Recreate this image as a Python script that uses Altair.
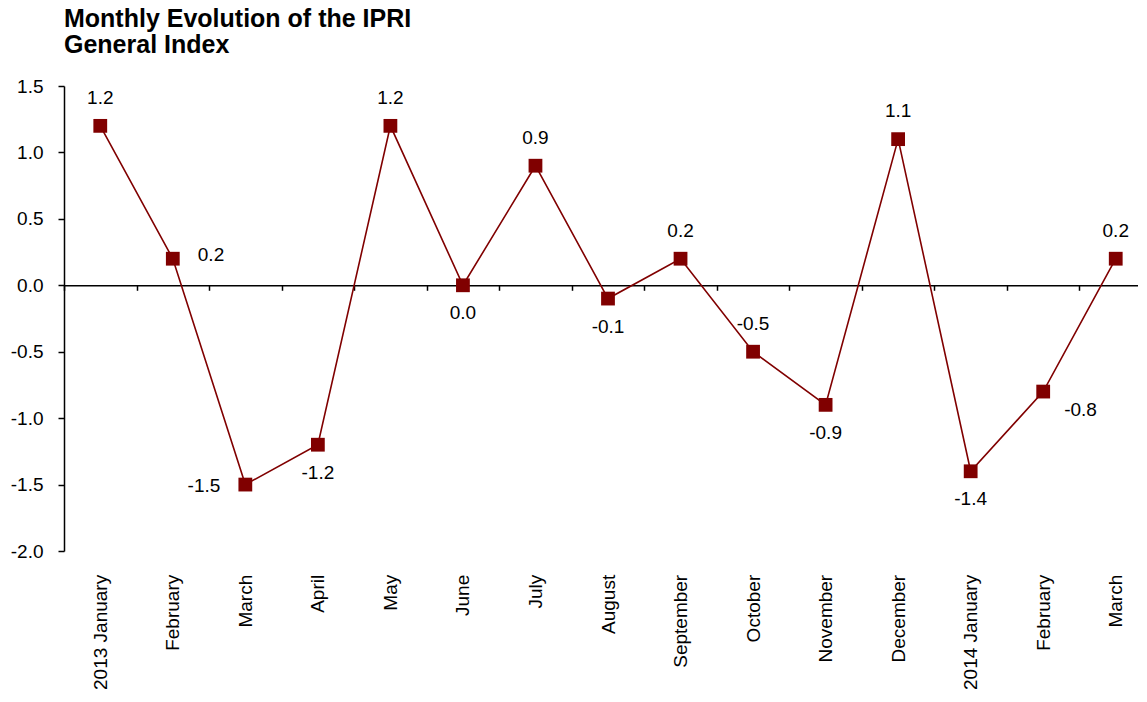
import altair as alt
import pandas as pd

months = ["2013 January", "February", "March", "April", "May", "June", "July",
          "August", "September", "October", "November", "December",
          "2014 January", "February ", "March "]
values = [1.2, 0.2, -1.5, -1.2, 1.2, 0.0, 0.9, -0.1, 0.2, -0.5, -0.9, 1.1, -1.4, -0.8, 0.2]
label_pos = ["above", "right", "left", "below", "above", "below", "above", "below",
             "above", "above", "below", "above", "below", "lowright", "above"]
y_ticks = [-2.0, -1.5, -1.0, -0.5, 0.0, 0.5, 1.0, 1.5]

df = pd.DataFrame({"month": months, "value": values, "pos": label_pos})

FONT = "Liberation Sans"
RED = "#800000"
H = 465
Y0_OFFSET = -H * (2.0 / 3.5)  # zero line distance above the plot bottom (negative offset)
HYPHEN = "replace(format(datum.value, '.1f'), '\u2212', '-')"

xscale = alt.Scale(domain=months, range=[0, 1088], paddingInner=0, paddingOuter=0)
yscale = alt.Scale(domain=[-2.0, 1.5], nice=False, zero=False)

x_axis = alt.Axis(title=None, offset=Y0_OFFSET, tickBand="extent", tickSize=5,
                  tickWidth=1.5, tickColor="black", domainColor="black", domainWidth=1.5,
                  labelAngle=-90, labelPadding=284, labelFontSize=19, labelFont=FONT,
                  labelColor="black", labelOverlap=False, labelBound=False, grid=False)
y_axis = alt.Axis(title=None, values=y_ticks, labelExpr=HYPHEN, tickSize=6, tickWidth=1.5,
                  tickColor="black", domainColor="black", domainWidth=1.5,
                  labelPadding=15, labelFontSize=19, labelFont=FONT, labelColor="black",
                  grid=False)

base = alt.Chart(df)

x_enc = alt.X("month:N", sort=months, scale=xscale, axis=x_axis)
x_plain = alt.X("month:N", sort=months, scale=xscale)
y_enc = alt.Y("value:Q", scale=yscale, axis=y_axis)
y_plain = alt.Y("value:Q", scale=yscale)

line = base.mark_line(color=RED, strokeWidth=1.6).encode(x=x_enc, y=y_enc)
pts = base.mark_square(size=190, color=RED, opacity=1).encode(x=x_plain, y=y_plain)

def labels(pos, **kw):
    return base.transform_filter(alt.datum.pos == pos).transform_calculate(
        lbl=HYPHEN
    ).mark_text(
        font=FONT, fontSize=19, color="black", baseline="middle", **kw
    ).encode(x=x_plain, y=y_plain, text="lbl:N")

t_above = labels("above", align="center", dy=-28)
t_below = labels("below", align="center", dy=28)
t_left = labels("left", align="right", dx=-25, dy=1)
t_right = labels("right", align="left", dx=25, dy=-4)
t_lowright = labels("lowright", align="left", dx=21, dy=18)

chart = alt.layer(line, pts, t_above, t_below, t_left, t_right, t_lowright).properties(
    width=1074, height=H,
    title=alt.TitleParams(text=["Monthly Evolution of the IPRI", "General Index"],
                          anchor="start", frame="group", font=FONT, fontSize=25,
                          fontWeight="bold", color="black", lineHeight=26,
                          baseline="bottom", offset=-6),
    autosize=alt.AutoSizeParams(type="none"),
    padding={"left": 56, "top": 78, "right": 0, "bottom": 143},
    background="white",
).configure_view(stroke=None)

chart.save("out.html", embed_options={"renderer": "svg", "actions": False})
